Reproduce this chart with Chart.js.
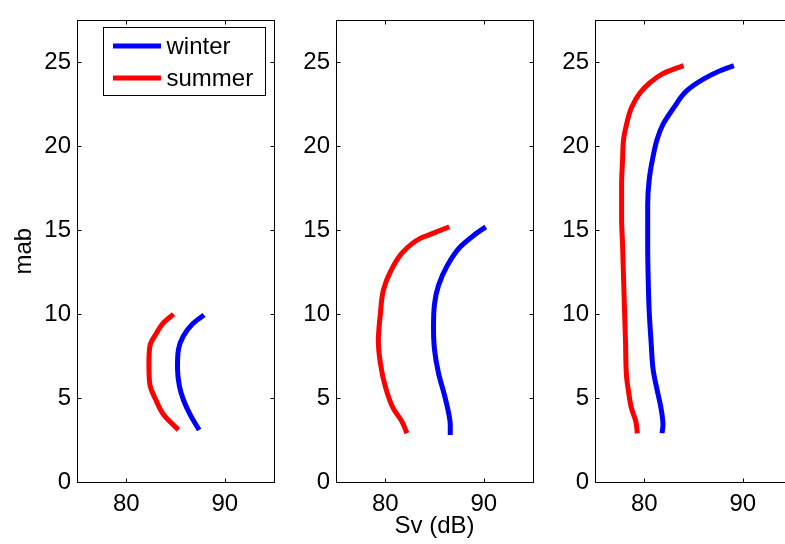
<!DOCTYPE html>
<html>
<head>
<meta charset="utf-8">
<script src="https://cdn.jsdelivr.net/npm/chart.js@4.4.0/dist/chart.umd.min.js"></script>
<style>
  html, body { margin: 0; padding: 0; background: #fff; overflow: hidden; width: 785px; height: 544px; }
  .panel { position: absolute; top: 0; }
</style>
</head>
<body>
<canvas id="panel1" class="panel" width="280" height="544" style="left:0px"></canvas>
<canvas id="panel2" class="panel" width="280" height="544" style="left:259px"></canvas>
<canvas id="panel3" class="panel" width="280" height="544" style="left:518px"></canvas>
<script>
const xTicks = [80, 90];
const yTicks = [0, 5, 10, 15, 20, 25];
const seriesNames = ['winter', 'summer'];

// panel 1
const winter1Sv  = [87.4, 86.5, 85.8, 85.4, 85.2, 85.3, 85.8, 86.7, 87.9];
const winter1Mab = [3.1, 4.0, 4.9, 5.7, 6.8, 7.9, 8.7, 9.4, 9.95];
const summer1Sv  = [85.3, 83.8, 83.0, 82.4, 82.3, 82.4, 83.0, 83.8, 84.8];
const summer1Mab = [3.1, 4.0, 4.9, 5.8, 7.0, 8.1, 8.8, 9.5, 10.0];

// panel 2
const winter2Sv  = [86.6, 86.6, 86.4, 86.0, 85.4, 85.0, 84.9, 85.0, 85.4, 86.3, 87.6, 89.0, 90.2];
const winter2Mab = [2.8, 3.4, 4.2, 5.2, 6.5, 7.9, 9.2, 10.6, 11.7, 12.9, 14.0, 14.7, 15.2];
const summer2Sv  = [82.2, 81.7, 80.8, 80.0, 79.5, 79.3, 79.5, 79.8, 80.5, 81.8, 83.5, 85.2, 86.5];
const summer2Mab = [2.9, 3.6, 4.4, 5.7, 7.1, 8.4, 10.0, 11.4, 12.5, 13.7, 14.5, 14.9, 15.2];

// panel 3
const winter3Sv  = [81.8, 81.9, 81.7, 81.3, 80.9, 80.7, 80.5, 80.4, 80.35, 80.35, 80.5, 80.9, 81.3, 81.9, 83.0, 84.3, 86.0, 87.7, 89.1];
const winter3Mab = [2.9, 3.4, 4.4, 5.5, 6.7, 8.3, 10.2, 12.1, 14.1, 16.5, 18.0, 19.4, 20.4, 21.3, 22.3, 23.3, 24.0, 24.5, 24.8];
const summer3Sv  = [79.3, 79.15, 78.7, 78.4, 78.2, 78.1, 78.0, 77.9, 77.8, 77.7, 77.7, 77.8, 77.9, 78.2, 78.7, 79.6, 80.6, 81.8, 83.0, 84.0];
const summer3Mab = [2.9, 3.6, 4.4, 5.4, 6.3, 8.3, 10.2, 12.1, 14.1, 15.7, 17.7, 19.2, 20.4, 21.3, 22.3, 23.2, 23.8, 24.3, 24.6, 24.8];

const fontFamily = '"Liberation Sans", Arial, sans-serif';
const tickFont = { family: fontFamily, size: 24 };

function toPoints(xs, ys) {
  return xs.map((x, i) => ({ x: x, y: ys[i] }));
}

// MATLAB style box with inward ticks on all four sides
const framePlugin = {
  id: 'frame',
  afterDraw(chart) {
    const { ctx, chartArea: a, scales } = chart;
    const L = Math.round(a.left) + 0.5, R = Math.round(a.right) + 0.5;
    const T = Math.round(a.top) + 0.5, B = Math.round(a.bottom) + 0.5;
    ctx.save();
    ctx.strokeStyle = '#000';
    ctx.lineWidth = 1;
    ctx.strokeRect(L, T, R - L, B - T);
    ctx.beginPath();
    xTicks.forEach(v => {
      const px = Math.round(scales.x.getPixelForValue(v)) + 0.5;
      ctx.moveTo(px, B); ctx.lineTo(px, B - 4);
      ctx.moveTo(px, T); ctx.lineTo(px, T + 4);
    });
    yTicks.forEach(v => {
      const py = Math.round(scales.y.getPixelForValue(v)) + 0.5;
      ctx.moveTo(L, py); ctx.lineTo(L + 4, py);
      ctx.moveTo(R, py); ctx.lineTo(R - 4, py);
    });
    ctx.stroke();
    ctx.restore();
  }
};

const boxLegendPlugin = {
  id: 'boxLegend',
  afterDraw(chart, args, opts) {
    if (!opts.show) return;
    const { ctx, chartArea: a } = chart;
    const left = Math.round(a.left) + 26.5, right = Math.round(a.right) - 8.5;
    const top = Math.round(a.top) + 7.5, bottom = Math.round(a.top) + 75.5;
    ctx.save();
    ctx.fillStyle = '#fff';
    ctx.fillRect(left, top, right - left, bottom - top);
    ctx.strokeStyle = '#000';
    ctx.lineWidth = 1;
    ctx.strokeRect(left, top, right - left, bottom - top);
    const rows = [a.top + 25.5, a.top + 57.5];
    chart.data.datasets.forEach((ds, i) => {
      ctx.strokeStyle = ds.borderColor;
      ctx.lineWidth = 5;
      ctx.beginPath();
      ctx.moveTo(a.left + 36, rows[i]);
      ctx.lineTo(a.left + 84, rows[i]);
      ctx.stroke();
      ctx.fillStyle = '#000';
      ctx.font = '24px ' + fontFamily;
      ctx.textBaseline = 'middle';
      ctx.fillText(ds.label, a.left + 89.5, rows[i] + 1);
    });
    ctx.restore();
  }
};

function makePanel(id, winterSv, winterMab, summerSv, summerMab, extra) {
  const ctx = document.getElementById(id).getContext('2d');
  const lineStyle = {
    showLine: true,
    borderWidth: 5,
    pointRadius: 0,
    indexAxis: 'y',
    cubicInterpolationMode: 'monotone',
    borderCapStyle: 'butt'
  };
  return new Chart(ctx, {
    type: 'scatter',
    data: {
      datasets: [Object.assign({
        label: seriesNames[0],
        data: toPoints(winterSv, winterMab),
        borderColor: '#0000ff'
      }, lineStyle), Object.assign({
        label: seriesNames[1],
        data: toPoints(summerSv, summerMab),
        borderColor: '#ff0000'
      }, lineStyle)]
    },
    options: {
      responsive: false,
      animation: false,
      devicePixelRatio: 1,
      layout: { padding: { top: 9, right: 6, bottom: 0, left: 0 } },
      plugins: {
        legend: { display: false },
        tooltip: { enabled: false },
        boxLegend: { show: !!extra.legend }
      },
      scales: {
        x: {
          type: 'linear',
          min: 75,
          max: 95,
          afterBuildTicks: s => { s.ticks = xTicks.map(v => ({ value: v })); },
          afterFit: s => { s.height = 62; },
          grid: { display: false, drawTicks: false, tickLength: 0 },
          border: { display: false },
          ticks: { font: tickFont, color: '#000', padding: 8, maxRotation: 0 },
          title: {
            display: !!extra.xTitle,
            text: extra.xTitle || '',
            font: tickFont,
            color: '#000',
            padding: { top: 0, bottom: 3 }
          }
        },
        y: {
          type: 'linear',
          min: 0,
          max: 27.5,
          afterBuildTicks: s => { s.ticks = yTicks.map(v => ({ value: v })); },
          afterFit: s => { s.width = 77; },
          grid: { display: false, drawTicks: false, tickLength: 0 },
          border: { display: false },
          ticks: { font: tickFont, color: '#000', padding: 6 },
          title: {
            display: !!extra.yTitle,
            text: extra.yTitle || '',
            font: tickFont,
            color: '#000',
            padding: { top: 10, bottom: 0 }
          }
        }
      }
    },
    plugins: [framePlugin, boxLegendPlugin]
  });
}

makePanel('panel1', winter1Sv, winter1Mab, summer1Sv, summer1Mab, { legend: true, yTitle: 'mab' });
makePanel('panel2', winter2Sv, winter2Mab, summer2Sv, summer2Mab, { xTitle: 'Sv (dB)' });
makePanel('panel3', winter3Sv, winter3Mab, summer3Sv, summer3Mab, {});
</script>
</body>
</html>
